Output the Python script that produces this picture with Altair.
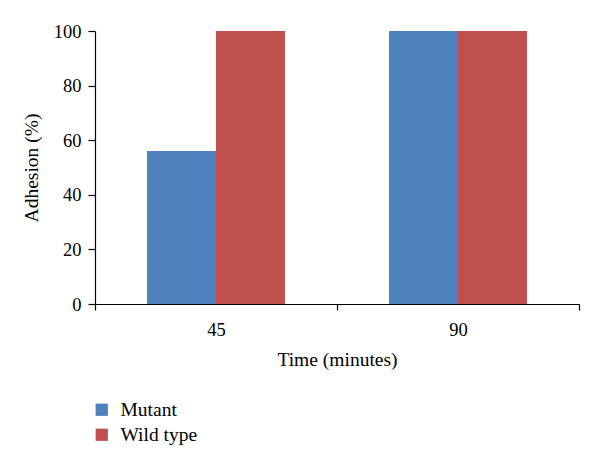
import altair as alt
import pandas as pd

times = ["45", "45", "90", "90"]
strains = ["Mutant", "Wild type", "Mutant", "Wild type"]
adhesion = [56, 100, 100, 100]

df = pd.DataFrame({"Time": times, "Strain": strains, "Adhesion": adhesion})

FONT = "Liberation Serif"

chart = alt.Chart(df).mark_bar().encode(
    x=alt.X("Time:N", title="Time (minutes)",
            scale=alt.Scale(paddingInner=0, paddingOuter=0),
            axis=alt.Axis(labelAngle=0, tickBand="extent", tickSize=6,
                          labelPadding=10, titlePadding=12)),
    xOffset=alt.XOffset("Strain:N", scale=alt.Scale(paddingInner=0, paddingOuter=0.754)),
    y=alt.Y("Adhesion:Q", title="Adhesion (%)",
            scale=alt.Scale(domain=[0, 100]),
            axis=alt.Axis(values=[0, 20, 40, 60, 80, 100], grid=False, tickSize=7,
                          labelPadding=7, titlePadding=12)),
    color=alt.Color("Strain:N", title=None,
                    scale=alt.Scale(domain=["Mutant", "Wild type"], range=["#4F81BD", "#C0504D"]),
                    legend=alt.Legend(orient="none", legendX=-3, legendY=369,
                                      symbolType="square", symbolSize=150,
                                      symbolStrokeWidth=0, labelFontSize=19.5,
                                      labelFont=FONT, rowPadding=4, labelOffset=9)),
).properties(
    width=484, height=273,
    autosize=alt.AutoSizeParams(type="none"),
    padding={"left": 87, "top": 23, "right": 13, "bottom": 153},
).configure_view(stroke=None).configure_axis(
    domainColor="black", tickColor="black", labelColor="black", titleColor="black",
    labelFont=FONT, titleFont=FONT, labelFontSize=18.5, titleFontSize=19.5,
    titleFontWeight="normal", domainWidth=1.2, tickWidth=1.2,
)

chart.save("out.html", embed_options={"renderer": "svg", "actions": False})
